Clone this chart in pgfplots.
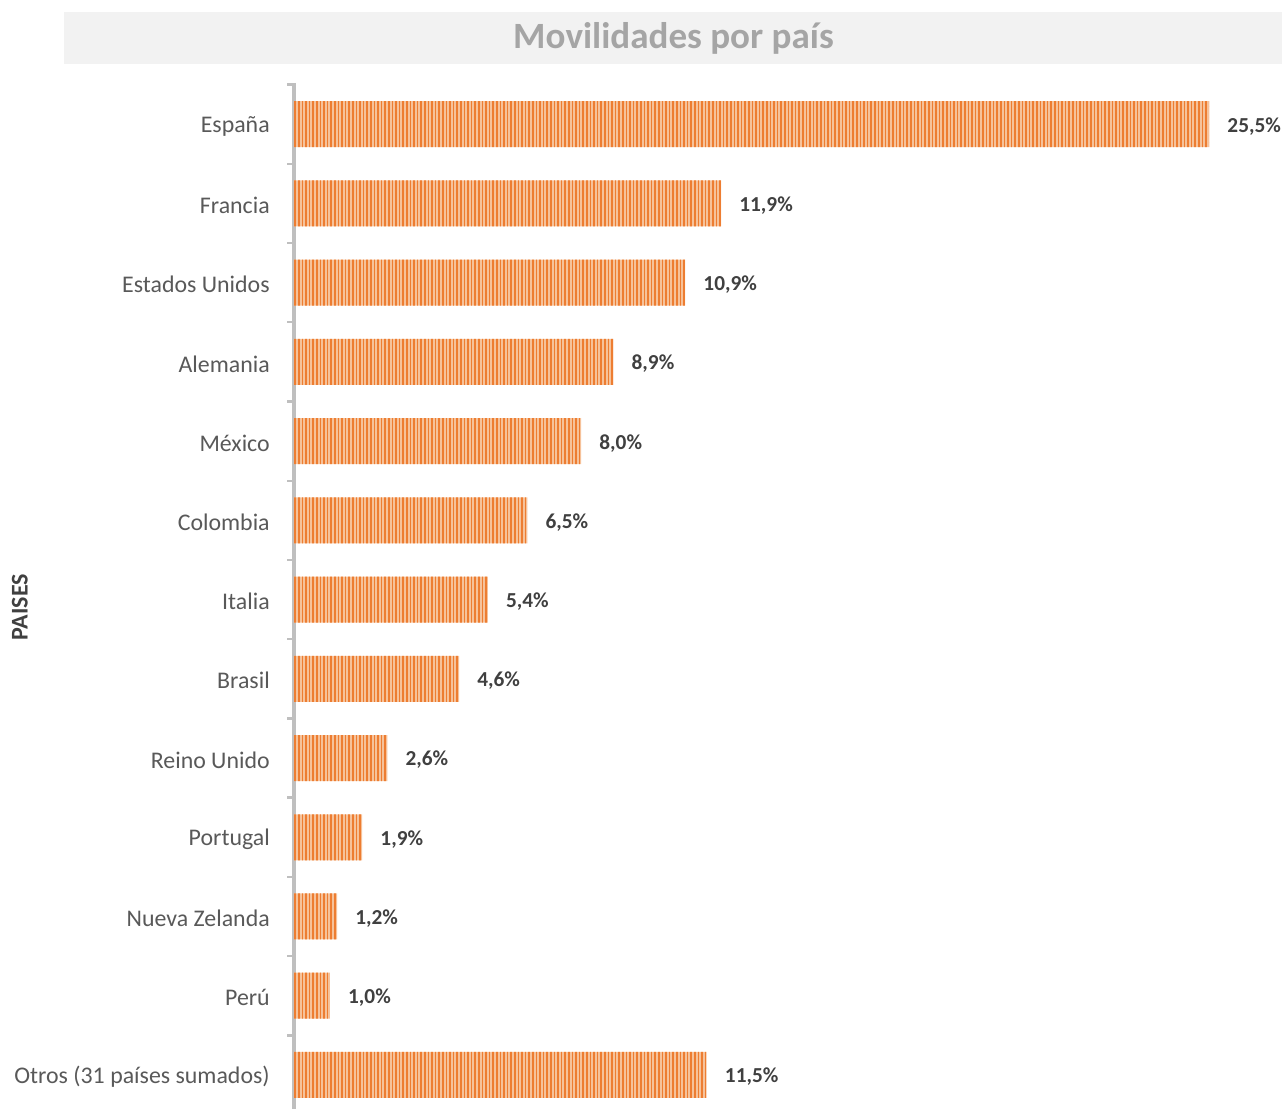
\documentclass[border=0pt]{standalone}
\usepackage{pgfplots}
\pgfplotsset{compat=1.18}
\usepackage{pgfplotstable}
\usepackage{fontspec}
\setmainfont{Carlito}
\usetikzlibrary{patterns.meta}
\definecolor{barlight}{HTML}{F6C29A}
\definecolor{bardark}{HTML}{ED7D31}
\definecolor{axgray}{HTML}{BFBFBF}
\definecolor{labgray}{HTML}{595959}
\definecolor{valgray}{HTML}{404040}
\definecolor{titgray}{HTML}{A5A5A5}
\definecolor{titbg}{HTML}{F2F2F2}

\pgfplotstableread{
y x lab
0 25.5 25,5
1 11.9 11,9
2 10.9 10,9
3 8.9 8,9
4 8.0 8,0
5 6.5 6,5
6 5.4 5,4
7 4.6 4,6
8 2.6 2,6
9 1.9 1,9
10 1.2 1,2
11 1.0 1,0
12 11.5 11,5
}\datatable

\begin{document}
\begin{tikzpicture}
\path[use as bounding box] (-220.5pt,0pt) rectangle (741pt,831.75pt);
\begin{axis}[
  scale only axis,
  width=726.75pt, height=769.5pt,
  xmin=0, xmax=27,
  ymin=-0.52, ymax=12.43,
  y dir=reverse,
  axis lines*=left,
  x axis line style={draw=none},
  xtick=\empty,
  every outer y axis line/.append style={draw=axgray, line width=2.4pt},
  ytick={0,...,12},
  yticklabels={España,Francia,Estados Unidos,Alemania,México,Colombia,Italia,Brasil,Reino Unido,Portugal,Nueva Zelanda,Perú,Otros (31 países sumados)},
  minor ytick={-0.5,0.5,...,12.5},
  major tick length=0pt,
  minor tick length=5pt,
  tick align=outside,
  minor tick style={axgray, line width=1.8pt},
  yticklabel style={font=\fontsize{17.9pt}{20pt}\selectfont, text=labgray, inner sep=0pt, xshift=-18pt, yshift=-1.5pt},
  ylabel={\textbf{PAISES}},
  ylabel style={font=\fontsize{18pt}{20pt}\selectfont, text=valgray, at={(rel axis cs:-0.2828,0.489)}, anchor=center, rotate=0},
  title={\textbf{Movilidades por país}},
  title style={font=\fontsize{27.8pt}{32pt}\selectfont, text=titgray, fill=titbg, at={(rel axis cs:0.3916,1.0361)}, anchor=center, minimum width=913.5pt, minimum height=39pt, inner sep=0pt},
  xbar,
  bar width=34.5pt,
  clip=false,
  point meta=explicit symbolic,
  nodes near coords={\pgfplotspointmeta\%},
  nodes near coords style={font=\bfseries\fontsize{16pt}{18pt}\selectfont, text=valgray, anchor=west, inner sep=0pt, xshift=13.5pt, yshift=-1.5pt},
]
\addplot[draw=none, fill=barlight,
  postaction={pattern={Lines[angle=90,distance=2.7pt,line width=1.3pt]}, pattern color=bardark}]
  table[x=x, y=y, meta=lab]{\datatable};
\end{axis}
\end{tikzpicture}
\end{document}
